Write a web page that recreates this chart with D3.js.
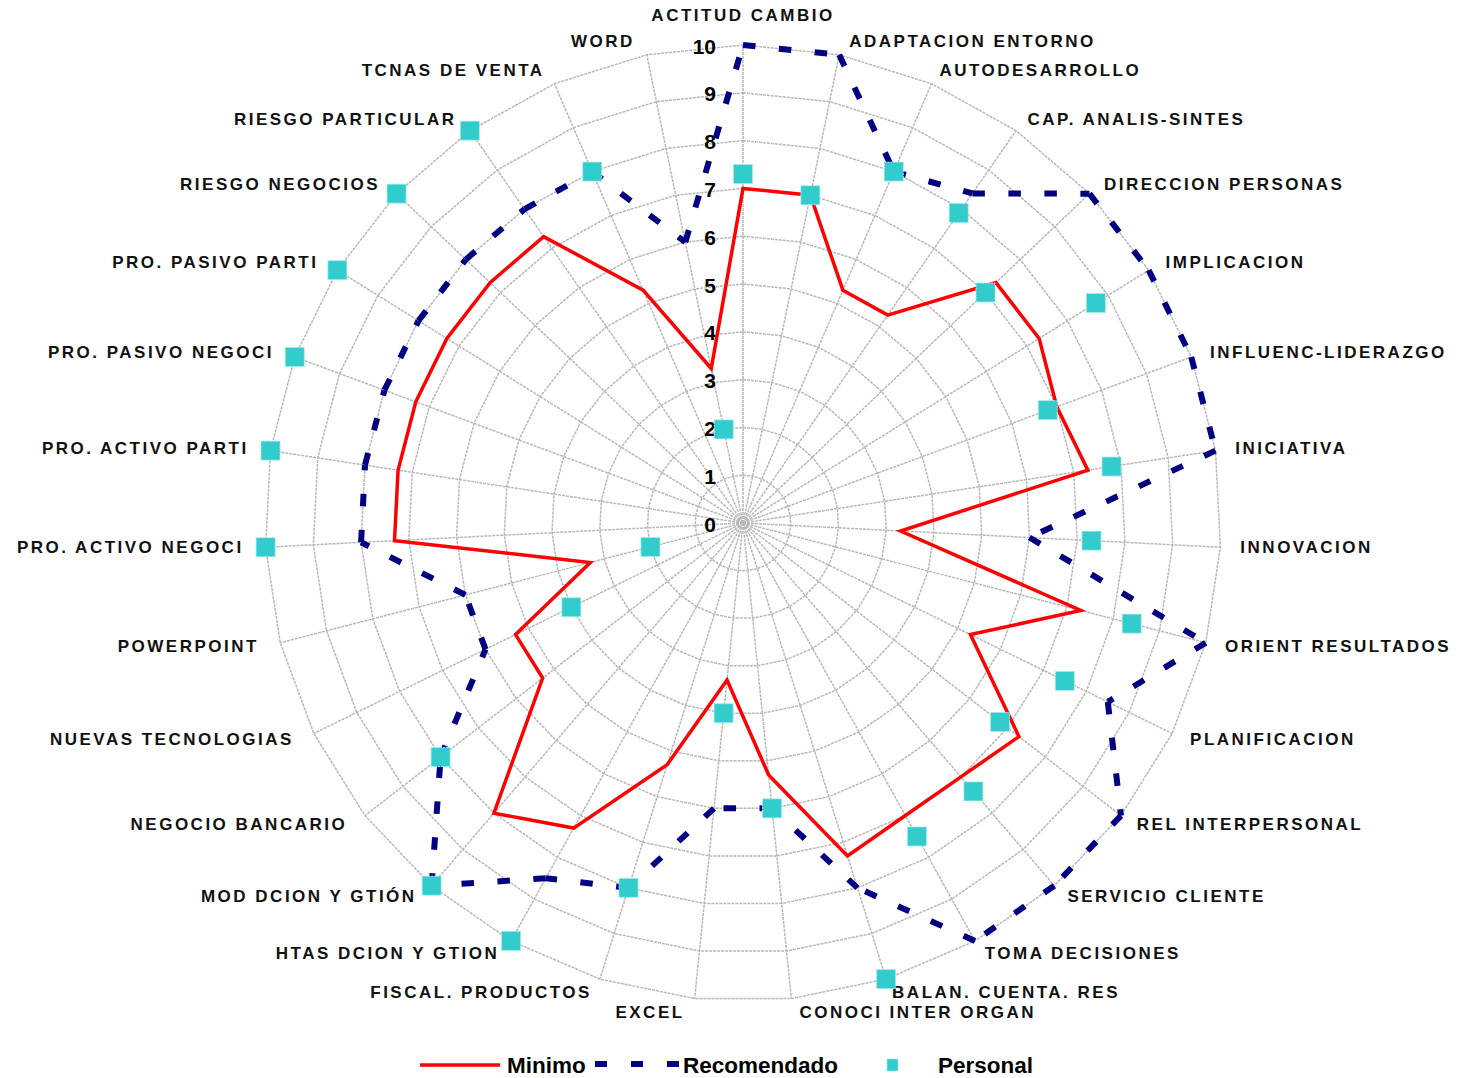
<!DOCTYPE html>
<html>
<head>
<meta charset="utf-8">
<script src="https://cdn.jsdelivr.net/npm/d3@7"></script>
<style>
  html, body { margin: 0; padding: 0; background: #ffffff; }
  svg { display: block; }
  text { font-family: "Liberation Sans", Arial, Helvetica, sans-serif; font-weight: bold; }
</style>
</head>
<body>
<div id="chart"></div>
<script>
// Competency profile radar: minimum, recommended and personal scores (0-10)
const categories = [
  "ACTITUD CAMBIO", "ADAPTACION ENTORNO", "AUTODESARROLLO", "CAP. ANALIS-SINTES",
  "DIRECCION PERSONAS", "IMPLICACION", "INFLUENC-LIDERAZGO", "INICIATIVA",
  "INNOVACION", "ORIENT RESULTADOS", "PLANIFICACION", "REL INTERPERSONAL",
  "SERVICIO CLIENTE", "TOMA DECISIONES", "BALAN. CUENTA. RES", "CONOCI INTER ORGAN",
  "EXCEL", "FISCAL. PRODUCTOS", "HTAS DCION Y GTION", "MOD DCION Y GTIÓN",
  "NEGOCIO BANCARIO", "NUEVAS TECNOLOGIAS", "POWERPOINT", "PRO. ACTIVO NEGOCI",
  "PRO. ACTIVO PARTI", "PRO. PASIVO NEGOCI", "PRO. PASIVO PARTI", "RIESGO NEGOCIOS",
  "RIESGO PARTICULAR", "TCNAS DE VENTA", "WORD"
];

const minimo = [
  7, 7, 5.3, 5.3, 7.3, 7.3, 7, 7.3, 3.3, 7.3, 5.3, 7.3, 7, 7, 7.3, 5.3,
  3.3, 5.3, 7.3, 8, 5.3, 5.3, 3.3, 7.3, 7.3, 7.3, 7.3, 7.3, 7.3, 5.3, 3.3
];

const recomendado = [
  10, 10, 8, 8.4, 10, 10, 10, 10, 6, 10, 8.5, 10, 10, 10, 8, 6,
  6, 8, 8.5, 10, 8, 6, 6, 8, 8, 8, 8, 8, 8, 8, 6
];

const personal = [
  7.3, 7, 8, 7.9, 7, 8.7, 6.8, 7.8, 7.3, 8.4, 7.5, 6.8, 7.4, 7.5, 10, 6,
  4, 8, 10, 10, 8, 4, 2, 10, 10, 10, 10, 10, 10, 8, 2
];

const ticks = [0, 1, 2, 3, 4, 5, 6, 7, 8, 9, 10];

const legendItems = ["Minimo", "Recomendado", "Personal"];

// ---- layout ----
const W = 1459, H = 1078;
const cx = 743, cy = 523, R = 478;

const svg = d3.select("#chart").append("svg")
  .attr("width", W).attr("height", H)
  .attr("viewBox", `0 0 ${W} ${H}`);

svg.append("rect").attr("width", W).attr("height", H).attr("fill", "#ffffff");

const n = categories.length;
const rScale = d3.scaleLinear().domain([0, 10]).range([0, R]);
const angle = d3.scaleLinear().domain([0, n]).range([0, 2 * Math.PI]);

const pt = (i, v) => {
  const a = angle(i);
  const r = rScale(v);
  return [cx + r * Math.sin(a), cy - r * Math.cos(a)];
};

const g = svg.append("g");

// ---- grid: polygonal rings and spokes ----
const gridStyle = sel => sel
  .attr("fill", "none")
  .attr("stroke", "#b8b8b8")
  .attr("stroke-width", 1.5)
  .attr("stroke-dasharray", "3,1");

const ringLine = d3.line().curve(d3.curveLinearClosed);

g.append("g").selectAll("path")
  .data(ticks.slice(1))
  .join("path")
  .attr("d", t => ringLine(d3.range(n).map(i => pt(i, t))))
  .call(gridStyle);

g.append("g").selectAll("line")
  .data(d3.range(n))
  .join("line")
  .attr("x1", cx).attr("y1", cy)
  .attr("x2", i => pt(i, 10)[0])
  .attr("y2", i => pt(i, 10)[1])
  .call(gridStyle);

// ---- value axis labels along the top spoke ----
g.append("g").selectAll("text")
  .data(ticks)
  .join("text")
  .attr("x", cx - 27)
  .attr("y", t => cy - rScale(t) + 1)
  .attr("text-anchor", "end")
  .attr("dominant-baseline", "central")
  .attr("font-size", 21)
  .attr("fill", "#000")
  .text(t => t);

// ---- category labels, placed just outside the outer ring ----
g.append("g").selectAll("text")
  .data(categories)
  .join("text")
  .each(function (d, i) {
    const a = angle(i);
    const s = Math.sin(a), c = Math.cos(a);
    const sel = d3.select(this);
    if (Math.abs(s) < 0.05) {
      sel.attr("x", cx).attr("y", cy - R - 30).attr("text-anchor", "middle");
    } else {
      const side = s > 0 ? 1 : -1;
      const nearVertical = Math.abs(c) > 0.97 ? 6 : 0;
      const x = cx + (R + 20) * s + side * nearVertical + (side < 0 ? -2 : 0);
      const y = cy - (R + 14) * c;
      sel.attr("x", x).attr("y", y)
        .attr("text-anchor", side > 0 ? "start" : "end");
    }
  })
  .attr("dominant-baseline", "central")
  .attr("font-size", 17)
  .attr("letter-spacing", "2.5px")
  .attr("fill", "#111")
  .text(d => d);

// ---- Minimo: solid red polygon ----
g.append("path")
  .attr("d", ringLine(minimo.map((v, i) => pt(i, v))))
  .attr("fill", "none")
  .attr("stroke", "#ff0000")
  .attr("stroke-width", 3.5)
  .attr("stroke-linejoin", "miter");

// ---- Recomendado: navy dashed polygon, dash pattern restarts at each vertex ----
const recSegs = recomendado.map((v, i) => [pt(i, v), pt((i + 1) % n, recomendado[(i + 1) % n])]);
g.append("g").selectAll("line")
  .data(recSegs)
  .join("line")
  .attr("x1", d => d[0][0]).attr("y1", d => d[0][1])
  .attr("x2", d => d[1][0]).attr("y2", d => d[1][1])
  .attr("stroke", "#000080")
  .attr("stroke-width", 6)
  .attr("stroke-dasharray", "12.5,23.5");

// ---- Personal: cyan square markers ----
const mk = 19;
g.append("g").selectAll("rect")
  .data(personal)
  .join("rect")
  .attr("x", (v, i) => pt(i, v)[0] - mk / 2)
  .attr("y", (v, i) => pt(i, v)[1] - mk / 2)
  .attr("width", mk).attr("height", mk)
  .attr("fill", "#33cccc")
  .attr("stroke", "#a8ecec")
  .attr("stroke-width", 1)
  .attr("stroke-dasharray", "2,1");

// ---- legend ----
const leg = svg.append("g");
const ly = 1065;

leg.append("line")
  .attr("x1", 420).attr("x2", 500).attr("y1", ly).attr("y2", ly)
  .attr("stroke", "#ff0000").attr("stroke-width", 3.5);

leg.append("line")
  .attr("x1", 595).attr("x2", 679).attr("y1", ly - 1).attr("y2", ly - 1)
  .attr("stroke", "#000080").attr("stroke-width", 6)
  .attr("stroke-dasharray", "12,24");

leg.append("rect")
  .attr("x", 887).attr("y", ly - 6).attr("width", 11).attr("height", 12)
  .attr("fill", "#33cccc")
  .attr("stroke", "#a8ecec").attr("stroke-width", 1).attr("stroke-dasharray", "2,1");

const legX = [507, 683, 938];
leg.selectAll("text")
  .data(legendItems)
  .join("text")
  .attr("x", (d, i) => legX[i])
  .attr("y", 1073)
  .attr("font-size", 22.5)
  .attr("fill", "#000")
  .text(d => d);
</script>
</body>
</html>
